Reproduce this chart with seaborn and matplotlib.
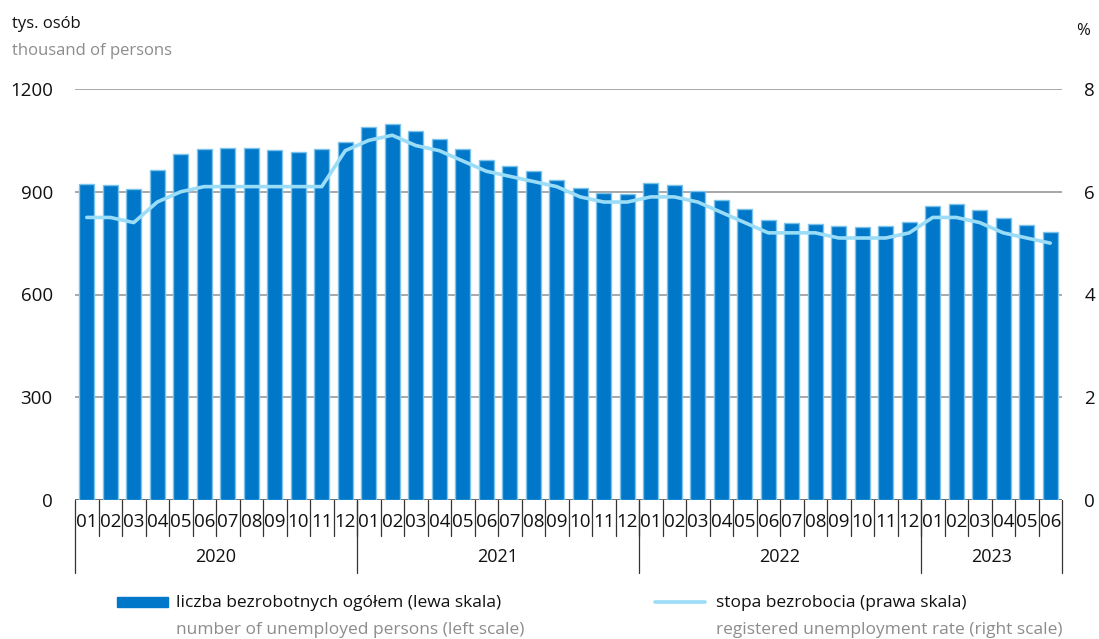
import matplotlib
matplotlib.use("Agg")
import matplotlib.pyplot as plt
import matplotlib.transforms as mtransforms
import numpy as np
import pandas as pd
import seaborn as sns

YEARS = ["2020", "2021", "2022", "2023"]
MONTHS_PER_YEAR = [12, 12, 12, 6]
MONTH_LABELS = [f"{m:02d}" for n in MONTHS_PER_YEAR for m in range(1, n + 1)]

UNEMPLOYED = [
    922, 919, 908, 964, 1010, 1025, 1028, 1027, 1023, 1017, 1025, 1045,
    1088, 1098, 1076, 1053, 1025, 992, 974, 961, 934, 910, 897, 894,
    926, 921, 902, 877, 850, 818, 810, 807, 801, 796, 800, 812,
    857, 864, 847, 822, 802, 783,
]
RATE = [
    5.5, 5.5, 5.4, 5.8, 6.0, 6.1, 6.1, 6.1, 6.1, 6.1, 6.1, 6.8,
    7.0, 7.1, 6.9, 6.8, 6.6, 6.4, 6.3, 6.2, 6.1, 5.9, 5.8, 5.8,
    5.9, 5.9, 5.8, 5.6, 5.4, 5.2, 5.2, 5.2, 5.1, 5.1, 5.1, 5.2,
    5.5, 5.5, 5.4, 5.2, 5.1, 5.0,
]

LEFT_TICKS = [0, 300, 600, 900, 1200]
RIGHT_TICKS = [0, 2, 4, 6, 8]

BAR_COLOUR = "#0077C8"
BAR_EDGE = "#7CC3EC"
LINE_COLOUR = "#9BDCF7"
GREY_TEXT = "#8C8C8C"
FS = 12.5

sns.set_style("white")
plt.rcParams["font.family"] = ["Open Sans", "DejaVu Sans"]

df = pd.DataFrame({"idx": np.arange(len(UNEMPLOYED)), "unemployed": UNEMPLOYED, "rate": RATE})
n = len(df)

fig = plt.figure(figsize=(10.99, 6.39), dpi=100)
ax = fig.add_axes([75 / 1099, 1 - 500 / 639, (1062 - 75) / 1099, (500 - 89) / 639])

sns.barplot(data=df, x="idx", y="unemployed", color=BAR_COLOUR, width=0.62,
            saturation=1, edgecolor=BAR_EDGE, linewidth=1, ax=ax, zorder=3)
ax.set_xlim(-0.5, n - 0.5)
ax.set_ylim(0, 1200)
ax.set_yticks(LEFT_TICKS)
ax.set_xticks([])
ax.set_xlabel("")
ax.set_ylabel("")
ax.tick_params(axis="y", length=0, labelsize=13.5, pad=16, labelcolor="#111111")
for y in LEFT_TICKS:
    ax.axhline(y, color="#9A9A9A" if y else "#555555", lw=1.2, zorder=1)
for s in ax.spines.values():
    s.set_visible(False)

ax2 = ax.twinx()
sns.lineplot(data=df, x="idx", y="rate", color=LINE_COLOUR, lw=2.6, ax=ax2, zorder=4)
ax2.set_ylim(0, 8)
ax2.set_yticks(RIGHT_TICKS)
ax2.set_xlim(-0.5, n - 0.5)
ax2.set_xlabel("")
ax2.set_ylabel("")
ax2.tick_params(axis="y", length=0, labelsize=13.5, pad=16, labelcolor="#111111")
for s in ax2.spines.values():
    s.set_visible(False)

# category axis: months and years
trans = mtransforms.blended_transform_factory(ax.transData, fig.transFigure)
month_top, month_bot, year_bot = 1 - 500 / 639, 1 - 536 / 639, 1 - 573 / 639
for i, lab in enumerate(MONTH_LABELS):
    fig.text(i, 1 - 522 / 639, lab, transform=trans, ha="center", va="center", fontsize=13.5, color="#111111")
    if i > 0:
        ax.plot([i - 0.5, i - 0.5], [month_top, month_bot], transform=trans, color="#333333", lw=0.9, clip_on=False)
start = 0
for year, cnt in zip(YEARS, MONTHS_PER_YEAR):
    ax.plot([start - 0.5, start - 0.5], [month_top, year_bot], transform=trans, color="#333333", lw=0.9, clip_on=False)
    fig.text(start + (cnt - 1) / 2, 1 - 557 / 639, year, transform=trans, ha="center", va="center", fontsize=13, color="#111111")
    start += cnt
ax.plot([n - 0.5, n - 0.5], [month_top, year_bot], transform=trans, color="#333333", lw=0.9, clip_on=False)

# unit labels
fig.text(12 / 1099, 1 - 24 / 639, "tys. osób", fontsize=12, color="#111111", va="center")
fig.text(12 / 1099, 1 - 51 / 639, "thousand of persons", fontsize=12, color=GREY_TEXT, va="center")
fig.text(1083 / 1099, 1 - 31 / 639, "%", fontsize=12, color="#111111", va="center", ha="center")

# legend
fig.patches.append(plt.Rectangle((117 / 1099, 1 - 607 / 639), 51 / 1099, 10 / 639,
                                 transform=fig.transFigure, color=BAR_COLOUR))
fig.text(176 / 1099, 1 - 603 / 639, "liczba bezrobotnych ogółem (lewa skala)", fontsize=FS, color="#111111", va="center")
fig.text(176 / 1099, 1 - 630 / 639, "number of unemployed persons (left scale)", fontsize=FS, color=GREY_TEXT, va="center")
fig.lines.append(plt.Line2D([655 / 1099, 705 / 1099], [1 - 602 / 639] * 2, transform=fig.transFigure,
                            color=LINE_COLOUR, lw=2.6))
fig.text(716 / 1099, 1 - 603 / 639, "stopa bezrobocia (prawa skala)", fontsize=FS, color="#111111", va="center")
fig.text(716 / 1099, 1 - 630 / 639, "registered unemployment rate (right scale)", fontsize=FS, color=GREY_TEXT, va="center")

fig.savefig("out.png", dpi=100)
